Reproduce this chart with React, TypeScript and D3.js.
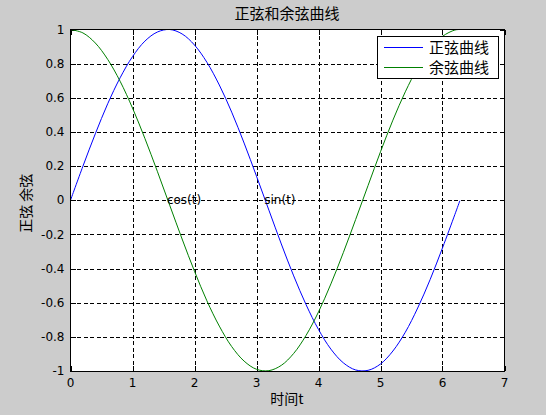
import * as d3 from 'd3';

// sample times (t from 0 to 2*pi)
const T = [0, 0.2, 0.4, 0.6, 0.8, 1.0, 1.2, 1.4, 1.6, 1.8, 2.0, 2.2, 2.4, 2.6, 2.8, 3.0, 3.2,
  3.4, 3.6, 3.8, 4.0, 4.2, 4.4, 4.6, 4.8, 5.0, 5.2, 5.4, 5.6, 5.8, 6.0, 6.2, 6.28];
const SIN = [0, 0.199, 0.389, 0.565, 0.717, 0.841, 0.932, 0.985, 1.0, 0.974, 0.909, 0.808, 0.675,
  0.516, 0.335, 0.141, -0.058, -0.256, -0.443, -0.612, -0.757, -0.872, -0.952, -0.994, -0.996,
  -0.959, -0.883, -0.773, -0.631, -0.465, -0.279, -0.083, -0.003];
const COS = [1, 0.98, 0.921, 0.825, 0.697, 0.54, 0.362, 0.17, -0.029, -0.227, -0.416, -0.589,
  -0.737, -0.857, -0.942, -0.99, -0.998, -0.967, -0.897, -0.791, -0.654, -0.49, -0.307, -0.112,
  0.087, 0.284, 0.469, 0.635, 0.776, 0.886, 0.96, 0.997, 1.0];

const X_TICKS = [0, 1, 2, 3, 4, 5, 6, 7];
const Y_TICKS = [-1, -0.8, -0.6, -0.4, -0.2, 0, 0.2, 0.4, 0.6, 0.8, 1];
const SERIES = [
  { name: '正弦曲线', values: SIN, color: '#0000ff' },
  { name: '余弦曲线', values: COS, color: '#008000' },
];
const NOTES = [
  { text: 'cos(t)', t: 1.5708, v: 0 },
  { text: 'sin(t)', t: 3.1416, v: 0 },
];

const W = 546;
const H = 415;
const font = '"DejaVu Sans", Arial, sans-serif';
const cjk = '"Noto Sans CJK SC", sans-serif';

export default function App() {
  const x = d3.scaleLinear().domain([0, 7]).range([70.5, 504.5]);
  const y = d3.scaleLinear().domain([-1, 1]).range([371, 29.5]);
  const line = d3
    .line<number>()
    .x((_, i) => x(T[i]))
    .y((v) => y(v))
    .curve(d3.curveCatmullRom);

  const [x0, x1] = x.range();
  const [y0, y1] = y.range();
  const tickLen = 5;

  return (
    <svg
      width={W}
      height={H}
      style={{ position: 'absolute', left: 0, top: 0, background: '#cccccc' }}
    >
      <rect x={x0} y={y1} width={x1 - x0} height={y0 - y1} fill="#ffffff" />

      {/* grid */}
      <g stroke="#000" strokeWidth={1} strokeDasharray="4,2.5" shapeRendering="crispEdges">
        {X_TICKS.slice(1, -1).map((t) => (
          <line key={'gx' + t} x1={Math.round(x(t)) + 0.5} x2={Math.round(x(t)) + 0.5} y1={y0} y2={y1} />
        ))}
        {Y_TICKS.slice(1, -1).map((t) => (
          <line key={'gy' + t} x1={x0} x2={x1} y1={Math.round(y(t)) + 0.5} y2={Math.round(y(t)) + 0.5} />
        ))}
      </g>

      {/* ticks */}
      <g stroke="#000" strokeWidth={1} shapeRendering="crispEdges">
        {X_TICKS.map((t) => {
          const px = Math.round(x(t)) + 0.5;
          return (
            <g key={'tx' + t}>
              <line x1={px} x2={px} y1={y0} y2={y0 - tickLen} />
              <line x1={px} x2={px} y1={y1} y2={y1 + tickLen} />
            </g>
          );
        })}
        {Y_TICKS.map((t) => {
          const py = Math.round(y(t)) + 0.5;
          return (
            <g key={'ty' + t}>
              <line x1={x0} x2={x0 + tickLen} y1={py} y2={py} />
              <line x1={x1} x2={x1 - tickLen} y1={py} y2={py} />
            </g>
          );
        })}
      </g>

      {/* curves */}
      <g fill="none" strokeWidth={1}>
        {SERIES.map((s) => (
          <path key={s.name} d={line(s.values) ?? ''} stroke={s.color} />
        ))}
      </g>

      {/* axes box */}
      <rect
        x={x0}
        y={y1}
        width={x1 - x0}
        height={y0 - y1}
        fill="none"
        stroke="#000"
        strokeWidth={1}
        shapeRendering="crispEdges"
      />

      {/* tick labels */}
      <g fontFamily={font} fontSize={12} fill="#000">
        {X_TICKS.map((t) => (
          <text key={'lx' + t} x={x(t)} y={y0 + 16} textAnchor="middle">
            {t}
          </text>
        ))}
        {Y_TICKS.map((t) => (
          <text key={'ly' + t} x={x0 - 6} y={y(t)} dy="0.35em" textAnchor="end">
            {String(t)}
          </text>
        ))}
      </g>

      {/* text annotations */}
      <g fontFamily={font} fontSize={12} fill="#000">
        {NOTES.map((n) => (
          <text key={n.text} x={x(n.t) - 1} y={y(n.v)} dy="0.35em">
            {n.text}
          </text>
        ))}
      </g>

      {/* titles */}
      <text x={287} y={19} textAnchor="middle" fontFamily={cjk} fontSize={15} fill="#000">
        正弦和余弦曲线
      </text>
      <text x={287} y={404} textAnchor="middle" fontFamily={cjk} fontSize={14} fill="#000">
        时间t
      </text>
      <text
        transform={`translate(31, ${(y0 + y1) / 2 + 3}) rotate(-90)`}
        textAnchor="middle"
        fontFamily={cjk}
        fontSize={14}
        fill="#000"
      >
        正弦 余弦
      </text>

      {/* legend */}
      <g>
        <rect x={377.5} y={36.5} width={121} height={42} fill="#fff" stroke="#000" strokeWidth={1} shapeRendering="crispEdges" />
        {SERIES.map((s, i) => (
          <g key={'lg' + s.name} transform={`translate(0, ${47 + i * 20})`}>
            <line x1={384} x2={423} y1={0.5} y2={0.5} stroke={s.color} strokeWidth={1} />
            <text x={429} y={0} dy="0.38em" fontFamily={cjk} fontSize={15} fill="#000">
              {s.name}
            </text>
          </g>
        ))}
      </g>
    </svg>
  );
}
